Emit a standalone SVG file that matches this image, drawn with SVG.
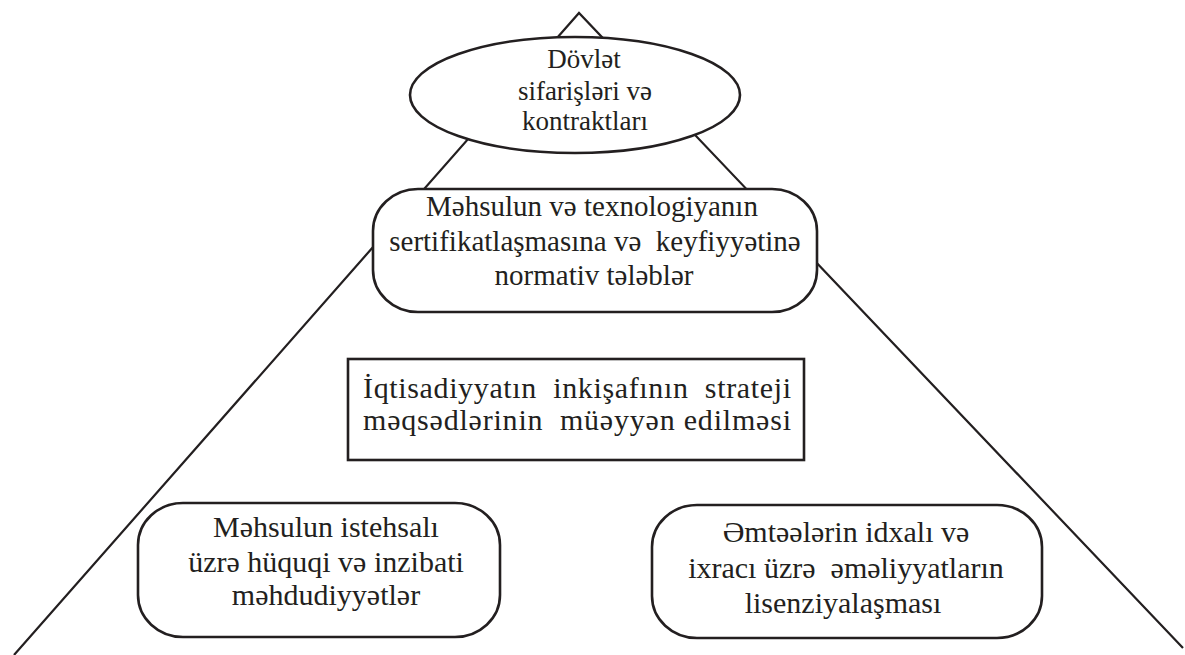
<svg xmlns="http://www.w3.org/2000/svg" width="1185" height="655" viewBox="0 0 1185 655">
<style>
.shape{fill:#fff;stroke:#231f20;stroke-width:2.6}
.conn{fill:none;stroke:#231f20;stroke-width:2.2}
text{font-family:"Liberation Serif","Times New Roman","DejaVu Serif",serif;fill:#231f20;text-anchor:middle}
.t30{font-size:30px}
.t29{font-size:29px}
.t27{font-size:27px}
.just{text-anchor:start}
</style>
<rect width="1185" height="655" fill="#fff"/>
<g id="connectors">
<path class="conn" d="M14,655 L579,13 L1183,648"/>
</g>
<g id="node-dovlet">
<ellipse class="shape" cx="575" cy="95" rx="165" ry="58"/>
<text class="t27" x="584" y="68">Dövlət</text>
<text class="t27" x="585" y="100">sifarişləri və</text>
<text class="t27" x="585" y="130">kontraktları</text>
</g>
<g id="node-mehsul-texnologiya">
<rect class="shape" x="373" y="189" width="444" height="123" rx="45" ry="42"/>
<text class="t29" x="592" y="216">Məhsulun və texnologiyanın</text>
<text class="t29" x="595" y="251" xml:space="preserve">sertifikatlaşmasına və  keyfiyyətinə</text>
<text class="t29" x="594" y="285">normativ tələblər</text>
</g>
<g id="node-strateji">
<rect class="shape" x="348" y="359" width="456" height="101"/>
<text class="t30 just" x="363" y="398" textLength="428" lengthAdjust="spacing" xml:space="preserve">İqtisadiyyatın  inkişafının  strateji</text>
<text class="t30 just" x="363" y="430" textLength="428" lengthAdjust="spacing" xml:space="preserve">məqsədlərinin  müəyyən edilməsi</text>
</g>
<g id="node-huquqi">
<rect class="shape" x="138" y="503" width="362" height="134" rx="45" ry="42"/>
<text class="t30" x="326" y="537">Məhsulun istehsalı</text>
<text class="t30" x="326" y="572">üzrə hüquqi və inzibati</text>
<text class="t30" x="326" y="605">məhdudiyyətlər</text>
</g>
<g id="node-lisenziya">
<rect class="shape" x="652" y="505" width="390" height="133" rx="45" ry="42"/>
<text class="t30" x="846" y="542">Əmtəələrin idxalı və</text>
<text class="t30" x="846" y="578" xml:space="preserve">ixracı üzrə  əməliyyatların</text>
<text class="t30" x="843" y="613">lisenziyalaşması</text>
</g>
</svg>
